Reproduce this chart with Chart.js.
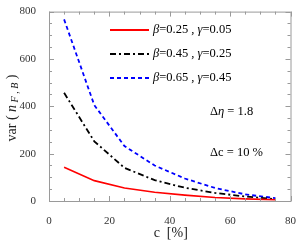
<!DOCTYPE html>
<html>
<head>
<meta charset="utf-8">
<script src="https://cdn.jsdelivr.net/npm/chart.js@4"></script>
<style>
  html, body { margin: 0; padding: 0; background: #fff; }
  #wrap { width: 302px; height: 244px; }
</style>
</head>
<body>
<div id="wrap"><canvas id="chart" width="302" height="244"></canvas></div>
<script>
// concentration c [%]
const categories = [5, 15, 25, 35, 45, 55, 65, 75];
// var(n_F,B) for each parameter set
const seriesA = [143, 86, 55, 37, 25, 15, 9, 5];
const seriesB = [457, 252, 140, 88, 56, 34, 19, 8];
const seriesC = [767, 405, 232, 150, 95, 55, 28, 12];
const betas = ['0.25', '0.45', '0.65'];
const gammas = ['0.05', '0.25', '0.45'];
const xTicks = [0, 20, 40, 60, 80];
const yTicks = [0, 200, 400, 600, 800];

const SERIF = '"Liberation Serif", "DejaVu Serif", serif';
const FRAME = '#9a9a9a';

const colors = ['#ff0000', '#000000', '#0000ff'];
const dashes = [[], [6, 3, 2, 3], [4, 3]];
const widths = [1.6, 1.8, 1.8];

function toPoints(vals) {
    return categories.map((c, i) => ({ x: c, y: vals[i] }));
}

const datasets = [seriesA, seriesB, seriesC].map((vals, i) => ({
    label: 'β=' + betas[i] + ' , γ=' + gammas[i],
    data: toPoints(vals),
    borderColor: colors[i],
    borderDash: dashes[i],
    borderWidth: widths[i],
    pointRadius: 0,
    tension: 0,
    fill: false
}));

// draws text pieces [{t, italic}] left to right
function drawRuns(ctx, runs, x, y, size) {
    runs.forEach(r => {
        ctx.font = (r.italic ? 'italic ' : '') + (r.size || size) + 'px ' + SERIF;
        ctx.fillText(r.t, x, y + (r.dy || 0));
        x += ctx.measureText(r.t).width;
    });
    return x;
}

const framePlugin = {
    id: 'frame',
    afterDraw(chart) {
        const { ctx, chartArea: a, scales } = chart;
        const xs = scales.x, ys = scales.y;
        ctx.save();
        ctx.strokeStyle = FRAME;
        ctx.lineWidth = 1;
        ctx.setLineDash([]);
        ctx.strokeRect(a.left + 0.5, a.top + 0.5, a.right - a.left, a.bottom - a.top);
        ctx.beginPath();
        for (let v = 0; v <= 80; v += 5) {
            const px = Math.round(xs.getPixelForValue(v)) + 0.5;
            const len = v % 20 === 0 ? 5 : 3;
            ctx.moveTo(px, a.bottom); ctx.lineTo(px, a.bottom - len);
            ctx.moveTo(px, a.top); ctx.lineTo(px, a.top + len);
        }
        for (let v = 0; v <= 800; v += 50) {
            const py = Math.round(ys.getPixelForValue(v)) + 0.5;
            const len = v % 200 === 0 ? 5 : 3;
            ctx.moveTo(a.left, py); ctx.lineTo(a.left + len, py);
            ctx.moveTo(a.right, py); ctx.lineTo(a.right - len, py);
        }
        ctx.stroke();

        // legend inside plot
        ctx.textBaseline = 'middle';
        ctx.fillStyle = '#000';
        const rows = [30, 54, 78];
        chart.data.datasets.forEach((ds, i) => {
            const y = rows[i];
            ctx.strokeStyle = ds.borderColor;
            ctx.lineWidth = ds.borderWidth + 0.4;
            ctx.setLineDash(ds.borderDash);
            ctx.beginPath();
            ctx.moveTo(110, y); ctx.lineTo(149, y);
            ctx.stroke();
            drawRuns(ctx, [
                { t: 'β', italic: true }, { t: '=' + betas[i] + ' , ' },
                { t: 'γ', italic: true }, { t: '=' + gammas[i] }
            ], 153, y, 12.5);
        });

        // annotations
        drawRuns(ctx, [{ t: 'Δ' }, { t: 'η', italic: true }, { t: ' = 1.8' }], 210, 112, 12.5);
        drawRuns(ctx, [{ t: 'Δc = 10 %' }], 210, 153, 12.5);

        // axis titles
        ctx.fillStyle = '#222';
        ctx.textAlign = 'left';
        ctx.font = '14px ' + SERIF;
        const xt = 'c  [%]';
        const w = ctx.measureText(xt).width;
        ctx.fillText(xt, (a.left + a.right) / 2 - w / 2 + 1, 233);

        ctx.save();
        ctx.translate(12, 108);
        ctx.rotate(-Math.PI / 2);
        const runs = [
            { t: 'var ( ' }, { t: 'n', italic: true },
            { t: ' F , B', italic: true, size: 10, dy: 3 }, { t: ' )' }
        ];
        let tw = 0;
        runs.forEach(r => {
            ctx.font = (r.italic ? 'italic ' : '') + (r.size || 14) + 'px ' + SERIF;
            tw += ctx.measureText(r.t).width;
        });
        drawRuns(ctx, runs, -tw / 2, 0, 14);
        ctx.restore();
        ctx.restore();
    }
};

new Chart(document.getElementById('chart'), {
    type: 'line',
    data: { datasets: datasets },
    options: {
        responsive: false,
        animation: false,
        layout: { padding: { top: 6, right: 9, left: 0, bottom: 0 } },
        plugins: { legend: { display: false }, tooltip: { enabled: false } },
        scales: {
            x: {
                type: 'linear', min: 0, max: 80,
                afterFit(s) { s.height = 43; },
                afterBuildTicks(s) { s.ticks = xTicks.map(v => ({ value: v })); },
                grid: { display: false },
                border: { display: false },
                ticks: { font: { family: SERIF, size: 11 }, color: '#333', padding: 6, maxRotation: 0 }
            },
            y: {
                min: 0, max: 800,
                afterFit(s) { s.width = 49; },
                afterBuildTicks(s) { s.ticks = yTicks.map(v => ({ value: v })); },
                grid: { display: false },
                border: { display: false },
                ticks: { font: { family: SERIF, size: 11 }, color: '#333', padding: 5 }
            }
        }
    },
    plugins: [framePlugin]
});
</script>
</body>
</html>
